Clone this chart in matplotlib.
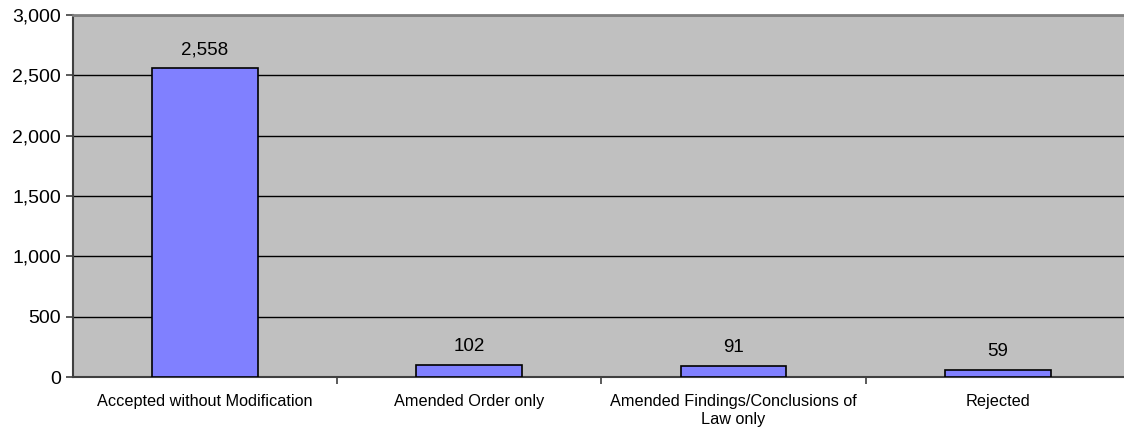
import matplotlib.pyplot as plt
from matplotlib.ticker import FuncFormatter

categories = ["Accepted without Modification", "Amended Order only",
              "Amended Findings/Conclusions of\nLaw only", "Rejected"]
counts = [2558, 102, 91, 59]
y_ticks = [0, 500, 1000, 1500, 2000, 2500, 3000]

plt.rcParams["font.family"] = ["Liberation Sans", "DejaVu Sans"]

fig = plt.figure(figsize=(11.24, 4.36), dpi=100)
ax = fig.add_axes([0.0647, 0.1353, 0.9406, 0.8303])
ax.set_facecolor("#c0c0c0")

x = range(len(categories))
bars = ax.bar(x, counts, width=0.4, color="#8080ff", edgecolor="black",
              linewidth=1.2, zorder=3)

for b, v in zip(bars, counts):
    ax.annotate(f"{v:,}", (b.get_x() + b.get_width() / 2, v),
                xytext=(0, 7), textcoords="offset points",
                ha="center", va="bottom", fontsize=13.5)

ax.set_xlim(-0.5, len(categories) - 0.5)
ax.set_ylim(0, 3000)
ax.set_yticks(y_ticks)
ax.yaxis.set_major_formatter(FuncFormatter(lambda v, p: f"{int(v):,}"))
ax.yaxis.grid(True, color="black", linewidth=1)
ax.set_axisbelow(True)

# category labels centred, ticks on the category boundaries
ax.set_xticks(list(x))
ax.set_xticklabels(categories, fontsize=11.7, linespacing=1.25)
ax.tick_params(axis="x", length=0, pad=12)
ax.set_xticks([i + 0.5 for i in range(len(categories) - 1)], minor=True)
ax.tick_params(axis="x", which="minor", length=5, color="#404040", width=1.2)
ax.tick_params(axis="y", length=5, color="#404040", width=1.2, labelsize=14)

for side in ["left", "bottom"]:
    ax.spines[side].set_color("#404040")
    ax.spines[side].set_linewidth(1.5)
ax.spines["top"].set_color("#808080")
ax.spines["top"].set_linewidth(2)
ax.spines["right"].set_visible(False)

fig.savefig("out.png", dpi=100)
